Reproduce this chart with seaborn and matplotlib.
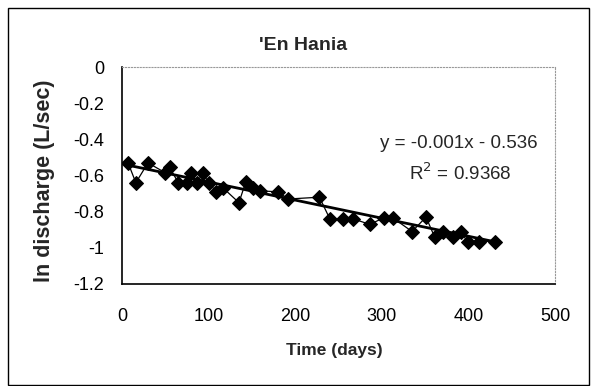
import matplotlib
matplotlib.use("Agg")
import matplotlib.pyplot as plt
import numpy as np
import pandas as pd
import seaborn as sns
from matplotlib.patches import Rectangle

# data
days = [7, 16, 30, 50, 55, 65, 75, 80, 87, 93, 100, 109, 117, 135, 143, 151, 159,
        180, 192, 228, 240, 255, 267, 286, 302, 313, 335, 351, 361, 371, 382, 391,
        399, 412, 431]
ln_q = [-0.53, -0.64, -0.53, -0.585, -0.555, -0.64, -0.64, -0.585, -0.64, -0.585,
        -0.64, -0.69, -0.67, -0.75, -0.635, -0.67, -0.685, -0.69, -0.73, -0.72,
        -0.84, -0.84, -0.84, -0.87, -0.835, -0.835, -0.91, -0.83, -0.94, -0.91,
        -0.94, -0.91, -0.965, -0.965, -0.965]
slope = -0.001
intercept = -0.536
r2 = 0.9368

x_ticks = [0, 100, 200, 300, 400, 500]
y_ticks = [0, -0.2, -0.4, -0.6, -0.8, -1, -1.2]
y_labels = ["0", "-0.2", "-0.4", "-0.6", "-0.8", "-1", "-1.2"]

df = pd.DataFrame({"days": days, "lnq": ln_q})
trend_x = np.array([min(days), max(days)])
trend = pd.DataFrame({"days": trend_x, "lnq": slope * trend_x + intercept})

sns.set_theme(style="white")
plt.rcParams["font.family"] = ["Liberation Sans", "DejaVu Sans"]

W, H = 594, 386
fig = plt.figure(figsize=(W / 100, H / 100), dpi=100)
ax = fig.add_axes([122 / W, 1 - 284 / H, (555 - 122) / W, (284 - 67) / H])

sns.lineplot(data=df, x="days", y="lnq", ax=ax, color="black", lw=0.9,
             marker="D", markersize=7.5, markeredgecolor="black", zorder=3)
sns.lineplot(data=trend, x="days", y="lnq", ax=ax, color="black", lw=2, zorder=2)

ax.set_xlim(0, 500)
ax.set_ylim(-1.2, 0)
ax.set_xticks(x_ticks)
ax.set_yticks(y_ticks)
ax.set_yticklabels(y_labels)
ax.tick_params(axis="both", direction="out", length=5, width=1, colors="black",
               labelsize=13)
ax.tick_params(axis="y", pad=8)
ax.tick_params(axis="x", pad=12)

ax.set_xlabel("Time (days)", fontsize=12.5, fontweight="bold")
ax.xaxis.label.set_va("center")
ax.xaxis.set_label_coords(0.49, (284 - 351) / 217)
ax.set_ylabel("ln discharge (L/sec)", fontsize=15.5, fontweight="bold")
ax.yaxis.label.set_va("center")
ax.yaxis.set_label_coords((45 - 122) / 433, (284 - 181) / 217)

for side in ["left", "bottom"]:
    ax.spines[side].set_color("black")
    ax.spines[side].set_linewidth(1.2)
for side in ["top", "right"]:
    ax.spines[side].set_color("#999999")
    ax.spines[side].set_linestyle(":")
    ax.spines[side].set_linewidth(0.8)

fig.text(303 / W, 1 - 45 / H, "'En Hania", ha="center", va="center",
         fontsize=14, fontweight="bold")
fig.text(459 / W, 1 - 143 / H, f"y = {slope:.3f}x - {abs(intercept):.3f}",
         ha="center", va="center", fontsize=13.5)
fig.text(460 / W, 1 - 173 / H, f"R$^2$ = {r2}",
         ha="center", va="center", fontsize=13.5)

# chart area frame
fig.patches.append(Rectangle((8 / W, 0.002), 581 / W, 1 - 8 / H - 0.002,
                             transform=fig.transFigure, fill=False,
                             edgecolor="black", lw=1))

fig.savefig("out.png", dpi=100)
